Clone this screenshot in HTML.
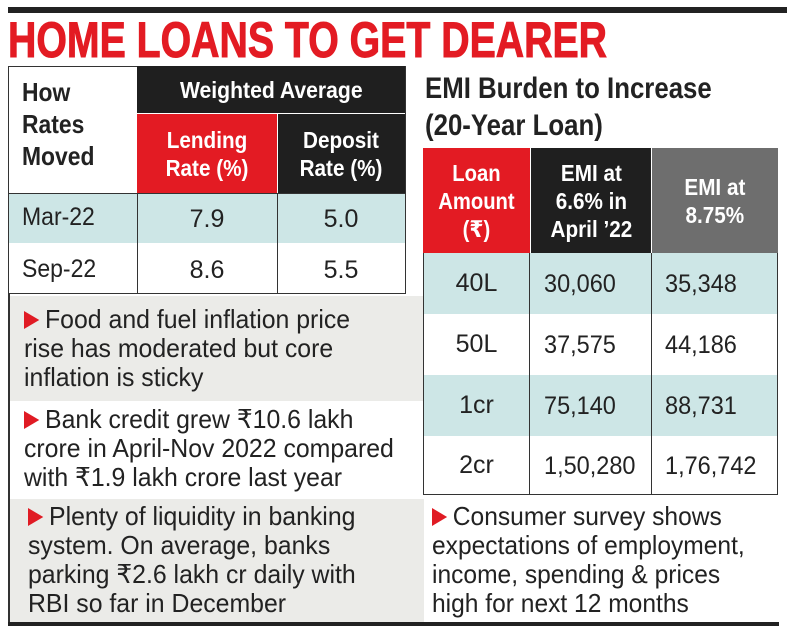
<!DOCTYPE html>
<html><head><meta charset="utf-8"><style>
*{margin:0;padding:0;box-sizing:border-box}
body{width:787px;height:630px;background:#fff;position:relative;overflow:hidden;font-family:"Liberation Sans","DejaVu Sans",sans-serif;color:#222}
.a{position:absolute}
.t{white-space:nowrap;transform-origin:left center;display:inline-block}
.cell{position:absolute;display:flex;align-items:center;justify-content:center;text-align:center}
.cell span{display:inline-block;white-space:nowrap}
.hd{color:#fff;font-weight:bold;font-size:23px;line-height:28px}
.num{font-size:25px}
.bl{position:absolute;font-size:26px;line-height:29px;white-space:nowrap;transform-origin:left top;color:#222}
.ar{display:inline-block;width:0;height:0;border-top:9px solid transparent;border-bottom:9px solid transparent;border-left:16px solid #e01b24;margin-right:6px;vertical-align:-1px}
</style></head><body>
<div class="a" style="left:8px;top:7px;width:779px;height:6px;background:#222"></div>
<div class="a" style="left:8px;top:14px;font-size:50px;font-weight:bold;color:#e31b23;line-height:52px;-webkit-text-stroke:1px #e31b23"><span class="t" style="transform:scaleX(0.785)">HOME LOANS TO GET DEARER</span></div>

<!-- left table -->
<div class="a" style="left:8px;top:66px;width:398px;height:228px;border:1.5px solid #333"></div>
<div class="a" style="left:22px;top:76px;font-size:26px;font-weight:bold;line-height:32px"><span class="t" style="transform:scaleX(0.88)">How<br>Rates<br>Moved</span></div>
<div class="cell hd" style="left:137px;top:66px;width:268px;height:47px;background:#1f1f1f"><span style="transform:scaleX(0.92)">Weighted Average</span></div>
<div class="cell hd" style="left:137px;top:113px;width:140px;height:80px;background:#e31b23;border-top:1px solid #fff"><span style="transform:scaleX(0.9)">Lending<br>Rate (%)</span></div>
<div class="cell hd" style="left:277px;top:113px;width:128px;height:80px;background:#1f1f1f;border-top:1px solid #fff;border-left:1px solid #fff"><span style="transform:scaleX(0.9)">Deposit<br>Rate (%)</span></div>
<div class="a" style="left:9px;top:193px;width:396px;height:50px;background:#cde6e6"></div>
<div class="a" style="left:9px;top:193px;width:396px;height:1px;background:#333"></div>
<div class="a" style="left:137px;top:193px;width:1px;height:101px;background:#333"></div>
<div class="a" style="left:277px;top:193px;width:1px;height:101px;background:#333"></div>
<div class="a num" style="left:22px;top:203px"><span class="t" style="transform:scaleX(0.92)">Mar-22</span></div>
<div class="a num" style="left:22px;top:255px"><span class="t" style="transform:scaleX(0.92)">Sep-22</span></div>
<div class="cell num" style="left:137px;top:194px;width:140px;height:50px"><span>7.9</span></div>
<div class="cell num" style="left:277px;top:194px;width:128px;height:50px"><span>5.0</span></div>
<div class="cell num" style="left:137px;top:245px;width:140px;height:50px"><span>8.6</span></div>
<div class="cell num" style="left:277px;top:245px;width:128px;height:50px"><span>5.5</span></div>

<!-- left bullet backgrounds -->
<div class="a" style="left:8px;top:296px;width:416px;height:105px;background:#ebebe8"></div>
<div class="a" style="left:8px;top:499px;width:416px;height:123px;background:#ebebe8"></div>
<div class="a" style="left:8px;top:294px;width:2px;height:330px;background:#333"></div>

<div class="bl" style="left:24px;top:305px;transform:scaleX(0.955)"><span class="ar"></span>Food and fuel inflation price<br>rise has moderated but core<br>inflation is sticky</div>
<div class="bl" style="left:24px;top:405px;transform:scaleX(0.955)"><span class="ar"></span>Bank credit grew ₹10.6 lakh<br>crore in April-Nov 2022 compared<br>with ₹1.9 lakh crore last year</div>
<div class="bl" style="left:28px;top:502px;transform:scaleX(0.955)"><span class="ar"></span>Plenty of liquidity in banking<br>system. On average, banks<br>parking ₹2.6 lakh cr daily with<br>RBI so far in December</div>

<!-- right -->
<div class="a" style="left:425px;top:70px;font-size:30px;font-weight:bold;line-height:37px"><span class="t" style="transform:scaleX(0.86)">EMI Burden to Increase<br>(20-Year Loan)</span></div>
<div class="a" style="left:423px;top:148px;width:355px;height:347px;border:1.5px solid #333"></div>
<div class="cell hd" style="left:423px;top:148px;width:107px;height:105px;background:#e31b23"><span style="transform:scaleX(0.88)">Loan<br>Amount<br>(₹)</span></div>
<div class="cell hd" style="left:530px;top:148px;width:121px;height:105px;background:#1f1f1f;border-left:1px solid #fff"><span style="transform:scaleX(0.9)">EMI at<br>6.6% in<br>April ’22</span></div>
<div class="cell hd" style="left:651px;top:148px;width:127px;height:105px;background:#6e6e6e;border-left:1px solid #fff"><span style="transform:scaleX(0.9)">EMI at<br>8.75%</span></div>
<div class="a" style="left:424px;top:253px;width:353px;height:61px;background:#cde6e6"></div>
<div class="a" style="left:424px;top:375px;width:353px;height:61px;background:#cde6e6"></div>
<div class="a" style="left:529px;top:253px;width:1px;height:242px;background:#333"></div>
<div class="a" style="left:651px;top:253px;width:1px;height:242px;background:#333"></div>

<div class="cell num" style="left:423px;top:253px;width:107px;height:61px"><span>40L</span></div>
<div class="cell num" style="left:423px;top:314px;width:107px;height:61px"><span>50L</span></div>
<div class="cell num" style="left:423px;top:375px;width:107px;height:61px"><span>1cr</span></div>
<div class="cell num" style="left:423px;top:436px;width:107px;height:59px"><span>2cr</span></div>

<div class="a num" style="left:544px;top:270px"><span class="t" style="transform:scaleX(0.94)">30,060</span></div>
<div class="a num" style="left:544px;top:331px"><span class="t" style="transform:scaleX(0.94)">37,575</span></div>
<div class="a num" style="left:544px;top:392px"><span class="t" style="transform:scaleX(0.94)">75,140</span></div>
<div class="a num" style="left:544px;top:452px"><span class="t" style="transform:scaleX(0.94)">1,50,280</span></div>
<div class="a num" style="left:665px;top:270px"><span class="t" style="transform:scaleX(0.94)">35,348</span></div>
<div class="a num" style="left:665px;top:331px"><span class="t" style="transform:scaleX(0.94)">44,186</span></div>
<div class="a num" style="left:665px;top:392px"><span class="t" style="transform:scaleX(0.94)">88,731</span></div>
<div class="a num" style="left:665px;top:452px"><span class="t" style="transform:scaleX(0.94)">1,76,742</span></div>

<div class="bl" style="left:432px;top:502px;transform:scaleX(0.945)"><span class="ar"></span>Consumer survey shows<br>expectations of employment,<br>income, spending &amp; prices<br>high for next 12 months</div>

<div class="a" style="left:8px;top:622px;width:771px;height:4px;background:#222"></div>
</body></html>
